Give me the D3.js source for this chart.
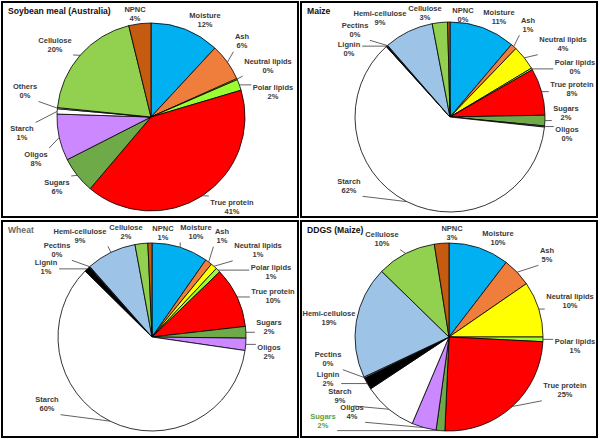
<!DOCTYPE html>
<html><head><meta charset="utf-8">
<script src="https://cdn.jsdelivr.net/npm/d3@7"></script>
<style>
html,body{margin:0;padding:0;background:#fff;}
svg{display:block;}
</style></head>
<body>
<svg id="chart" width="600" height="439"></svg>
<script>
// ---------------- DATA ----------------
const components = ["Moisture","Ash","Neutral lipids","Polar lipids","True protein","Sugars","Oligos","Starch","Others","Lignin","Pectins","Hemi-cellulose","Cellulose","NPNC"];
const panelTitles = ["Soybean meal (Australia)","Maize","Wheat","DDGS (Maize)"];

const soyValues   = [11.9, 6.4, 0.2, 1.9, 40.8, 6.3, 8.0, 0.9, 0.2, null, null, null, 19.6, 3.8];
const soyLabels   = ["12%","6%","0%","2%","41%","6%","8%","1%","0%",null,null,null,"20%","4%"];
const maizeValues = [11.2, 1.0, 4.2, 0.3, 8.0, 1.8, 0.2, 61.6, null, 0.2, 0.1, 8.4, 2.6, 0.4];
const maizeLabels = ["11%","1%","4%","0%","8%","2%","0%","62%",null,"0%","0%","9%","3%","0%"];
const wheatValues = [9.7, 1.2, 1.1, 0.8, 10.4, 2.0, 2.1, 60.1, null, 1.0, 0.1, 8.6, 2.2, 0.7];
const wheatLabels = ["10%","1%","1%","1%","10%","2%","2%","60%",null,"1%","0%","9%","2%","1%"];
const ddgsValues  = [10.4, 5.0, 9.6, 0.8, 24.9, 1.5, 4.2, 9.3, null, 2.1, 0.2, 19.3, 10.2, 2.5];
const ddgsLabels  = ["10%","5%","10%","1%","25%","2%","4%","9%",null,"2%","0%","19%","10%","3%"];

// ---------------- STYLE / LAYOUT ----------------
const colors = {
  "Moisture":"#00B0F0","Ash":"#EF7D3B","Neutral lipids":"#FFFF00","Polar lipids":"#99FF33",
  "True protein":"#FF0000","Sugars":"#6FAA48","Oligos":"#CC88FF","Starch":"#FFFFFF",
  "Others":"#FFFFFF","Lignin":"#000000","Pectins":"#D9D9D9","Hemi-cellulose":"#9DC3E6",
  "Cellulose":"#92D050","NPNC":"#C55A11"
};
// label block centres, offset from pie centre (same order as components)
const soyLayout = [[54,-97.5],[91,-75.8],[117,-51.5],[122,-25.2],[81,89.5],[-94,69.5],[-115,41.5],[-129,16],[-126,-26],null,null,null,[-96,-72.5],[-16,-103]];
const maizeLayout = [[49,-99.8],[78,-92.3],[113,-72.8],[125,-50.3],[122,-27.8],[116,-4.5],[117,16.8],[-101,68.8],null,[-101,-67.8],[-95,-87.2],[-70,-99],[-25,-104.5],[13,-102.5]];
const wheatLayout = [[44,-105],[70,-100.8],[106,-86.7],[119,-64.8],[121,-40.7],[117,-10.3],[117,14.8],[-105,67.2],null,[-106,-69.8],[-95,-87.2],[-72,-101.2],[-26,-105.5],[11,-103.8]];
const ddgsLayout = [[49,-99.5],[98,-82.2],[121,-36.5],[126,8.8],[116,53.3],[-126,83.5],[-97,74.8],[-109,58.5],null,[-121,42.2],[-121,22.2],[-120,-18.7],[-67,-97.8],[3,-104.5]];

const panels = [
  {title:panelTitles[0], titleColor:"#111", box:[2,2,296,215],   c:[151,117], r:94, values:soyValues,   labels:soyLabels,   layout:soyLayout},
  {title:panelTitles[1], titleColor:"#111", box:[301,2,296,215], c:[450,117], r:95, values:maizeValues, labels:maizeLabels, layout:maizeLayout},
  {title:panelTitles[2], titleColor:"#6b6b6b", box:[2,221,296,216], c:[152,337], r:94, values:wheatValues, labels:wheatLabels, layout:wheatLayout},
  {title:panelTitles[3], titleColor:"#111", box:[301,221,296,216], c:[449,337], r:94, values:ddgsValues,  labels:ddgsLabels,  layout:ddgsLayout,
   labelColors:{"Sugars":"#5E9E3A"}}
];

const FONT = "'Liberation Sans', Arial, sans-serif";
const svg = d3.select("#chart");
svg.append("rect").attr("width",600).attr("height",439).attr("fill","#fff");

panels.forEach(p => {
  const g = svg.append("g");
  g.append("rect").attr("x",p.box[0]).attr("y",p.box[1]).attr("width",p.box[2]).attr("height",p.box[3])
    .attr("fill","#fff").attr("stroke","#000").attr("stroke-width",2);
  g.append("text").attr("x",p.box[0]+6).attr("y",p.box[1]+12)
    .attr("font-family",FONT).attr("font-weight","bold").attr("font-size","8.6px")
    .attr("fill",p.titleColor).text(p.title);

  const items = components.map((name,i)=>({name, v:p.values[i], label:p.labels[i], pos:p.layout[i]}))
    .filter(d=>d.v!==null);
  const pie = d3.pie().sort(null).value(d=>d.v).startAngle(0).endAngle(2*Math.PI);
  const arcs = pie(items);
  const arc = d3.arc().innerRadius(0).outerRadius(p.r);
  const pg = g.append("g").attr("transform",`translate(${p.c[0]},${p.c[1]})`);
  pg.selectAll("path").data(arcs).join("path")
    .attr("d",arc).attr("fill",d=>colors[d.data.name])
    .attr("stroke","#000").attr("stroke-width",0.8).attr("stroke-linejoin","round");

  const lg = pg.append("g");
  const tg = pg.append("g");
  arcs.forEach(a => {
    const d = a.data;
    if (!d.pos) return;
    const col = (p.labelColors && p.labelColors[d.name]) || "#3a3a3a";
    const t = tg.append("text").attr("font-family",FONT).attr("font-weight","bold")
      .attr("font-size","7.5px").attr("fill",col).attr("text-anchor","middle");
    t.append("tspan").attr("x",d.pos[0]).attr("y",d.pos[1]-4.5).attr("dominant-baseline","central").text(d.name);
    t.append("tspan").attr("x",d.pos[0]).attr("y",d.pos[1]+4.5).attr("dominant-baseline","central").text(d.label);
    const bb = t.node().getBBox();
    const mid = (a.startAngle + a.endAngle)/2;
    const px = p.r*Math.sin(mid), py = -p.r*Math.cos(mid);
    const pad = 1.5;
    const x0 = bb.x - pad, x1 = bb.x + bb.width + pad, y0 = bb.y - pad, y1 = bb.y + bb.height + pad;
    const qx = Math.max(x0, Math.min(x1, px)), qy = Math.max(y0, Math.min(y1, py));
    const dist = Math.hypot(px-qx, py-qy);
    if (dist > 4) {
      lg.append("line").attr("x1",qx).attr("y1",qy).attr("x2",px).attr("y2",py)
        .attr("stroke","#3a3a3a").attr("stroke-width",0.8);
    }
  });
});
</script>
</body></html>
